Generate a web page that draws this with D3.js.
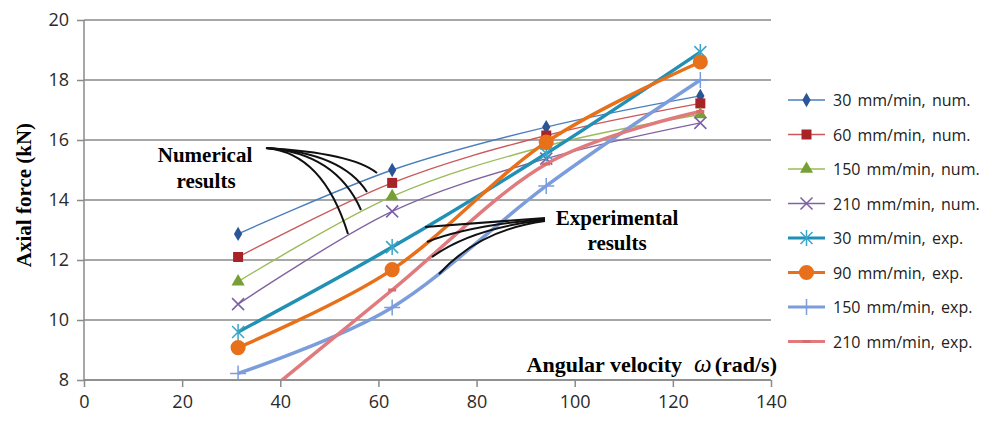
<!DOCTYPE html>
<html>
<head>
<meta charset="utf-8">
<script src="https://cdn.jsdelivr.net/npm/d3@7"></script>
<style>
  body { margin: 0; background: #fff; }
  svg { display: block; }
</style>
</head>
<body>
<div id="chart"></div>
<script>
// angular velocities (rad/s)
let omega = [31.4, 62.8, 94.2, 125.6];

// axial force (kN)
let num30 = [12.87, 15.0, 16.43, 17.47];
let num60 = [12.1, 14.57, 16.15, 17.22];
let num150 = [11.28, 14.12, 15.8, 16.85];
let num210 = [10.53, 13.62, 15.38, 16.57];
let exp30 = [9.6, 12.43, 15.55, 18.93];
let exp90 = [9.08, 11.68, 15.93, 18.6];
let exp150 = [8.22, 10.42, 14.47, 18.0];
let exp210 = [6.8, 11.0, 15.2, 16.95];

let series_names = ['30 mm/min, num.', '60 mm/min, num.', '150 mm/min, num.', '210 mm/min, num.',
                    '30 mm/min, exp.', '90 mm/min, exp.', '150 mm/min, exp.', '210 mm/min, exp.'];

let x_ticks = [0, 20, 40, 60, 80, 100, 120, 140];
let y_ticks = [8, 10, 12, 14, 16, 18, 20];

let series = [
    {name: series_names[0], values: num30, line: '#4a7ebb', mark: '#2a5597', w: 1.4, sym: 'diamond'},
    {name: series_names[1], values: num60, line: '#c9595a', mark: '#a82328', w: 1.4, sym: 'square'},
    {name: series_names[2], values: num150, line: '#9bbb59', mark: '#76a035', w: 1.4, sym: 'triangle'},
    {name: series_names[3], values: num210, line: '#8064a2', mark: '#7c5fa8', w: 1.4, sym: 'x'},
    {name: series_names[4], values: exp30, line: '#2190b5', mark: '#3aa5c8', w: 3.5, sym: 'star'},
    {name: series_names[5], values: exp90, line: '#e8701a', mark: '#e8701a', w: 3.5, sym: 'circle'},
    {name: series_names[6], values: exp150, line: '#7c9ddb', mark: '#7c9ddb', w: 3.5, sym: 'plus'},
    {name: series_names[7], values: exp210, line: '#e07a7d', mark: '#d96a6e', w: 3.5, sym: 'dash'},
];

let width = 982, height = 421;
let m_left = 84, m_right = 771, m_top = 20, m_bottom = 380;

let svg = d3.select('#chart').append('svg')
    .attr('width', width)
    .attr('height', height);

let x_scale = d3.scaleLinear().domain([0, 140]).range([m_left, m_right]);
let y_scale = d3.scaleLinear().domain([8, 20]).range([m_bottom, m_top]);

// grid lines
svg.append('g').selectAll('line')
    .data(y_ticks)
    .enter()
    .append('line')
    .attr('x1', m_left).attr('x2', m_right)
    .attr('y1', d => y_scale(d)).attr('y2', d => y_scale(d))
    .attr('stroke', '#8a8a8a')
    .attr('stroke-width', 1.5);

// axes
let x_axis = d3.axisBottom(x_scale).tickValues(x_ticks).tickSize(7).tickPadding(8);
let gx = svg.append('g')
    .attr('transform', 'translate(0,' + m_bottom + ')')
    .call(x_axis);

let y_axis = d3.axisLeft(y_scale).tickValues(y_ticks).tickSize(7).tickPadding(8);
let gy = svg.append('g')
    .attr('transform', 'translate(' + m_left + ',0)')
    .call(y_axis);

[gx, gy].forEach(g => {
    g.select('.domain').attr('stroke', '#8a8a8a').attr('stroke-width', 1.5);
    g.selectAll('.tick line').attr('stroke', '#8a8a8a').attr('stroke-width', 1.5);
    g.selectAll('.tick text')
        .attr('fill', '#2a2a2a')
        .style('font-family', '"Open Sans", sans-serif')
        .style('font-size', '18px');
});
gy.select('.domain').attr('d', 'M0,' + m_top + 'V' + m_bottom);
gx.select('.domain').attr('d', 'M' + m_left + ',0H' + m_right);

// axis titles
svg.append('text')
    .attr('transform', 'translate(31,195) rotate(-90)')
    .attr('text-anchor', 'middle')
    .style('font-family', '"Liberation Serif", serif')
    .style('font-weight', 'bold')
    .style('font-size', '21px')
    .text('Axial force (kN)');

let xt = svg.append('text')
    .attr('x', 777)
    .attr('y', 372)
    .attr('text-anchor', 'end')
    .style('font-family', '"Liberation Serif", serif')
    .style('font-weight', 'bold')
    .style('font-size', '22px');
xt.append('tspan').text('Angular velocity');
xt.append('tspan').attr('dx', 12).style('font-style', 'italic').style('font-weight', 'normal')
    .style('font-size', '25px').text('\u03c9');
xt.append('tspan').attr('dx', 3).text('(rad/s)');

// clip
svg.append('clipPath').attr('id', 'plot_clip')
    .append('rect')
    .attr('x', m_left).attr('y', 0)
    .attr('width', m_right - m_left + 10).attr('height', m_bottom - 1);

let line = d3.line()
    .x((d, i) => x_scale(omega[i]))
    .y(d => y_scale(d))
    .curve(d3.curveCatmullRom.alpha(0));

function symbol_path(sym) {
    if (sym === 'diamond') return d3.symbol(d3.symbolDiamond, 60)();
    if (sym === 'square') return d3.symbol(d3.symbolSquare, 100)();
    if (sym === 'triangle') return d3.symbol(d3.symbolTriangle, 75)();
    if (sym === 'circle') return d3.symbol(d3.symbolCircle, 180)();
    if (sym === 'x') return 'M-6,-6L6,6M-6,6L6,-6';
    if (sym === 'star') return 'M-6,-6L6,6M-6,6L6,-6M0,-8V8';
    if (sym === 'plus') return 'M-8,0H8M0,-8V8';
    if (sym === 'dash') return 'M-4,0H4';
    return '';
}
let stroked = ['x', 'star', 'plus', 'dash'];

function draw_marker(g, s, tx, ty) {
    let p = g.append('path')
        .attr('d', symbol_path(s.sym))
        .attr('transform', 'translate(' + tx + ',' + ty + ')');
    if (stroked.includes(s.sym)) {
        p.attr('fill', 'none').attr('stroke', s.mark).attr('stroke-width', s.sym === 'dash' ? 3 : 1.5);
    } else {
        p.attr('fill', s.mark);
    }
}

let plot = svg.append('g').attr('clip-path', 'url(#plot_clip)');

series.forEach(s => {
    let g = plot.append('g');
    g.append('path')
        .datum(s.values)
        .attr('d', line)
        .attr('fill', 'none')
        .attr('stroke', s.line)
        .attr('stroke-width', s.w);
    s.values.forEach((v, i) => draw_marker(g, s, x_scale(omega[i]), y_scale(v)));
});

// annotations
let ann = svg.append('g')
    .style('font-family', '"Liberation Serif", serif')
    .style('font-weight', 'bold')
    .style('font-size', '21px')
    .attr('text-anchor', 'middle');
ann.append('text').attr('x', 205).attr('y', 162).text('Numerical');
ann.append('text').attr('x', 206).attr('y', 188).text('results');
ann.append('text').attr('x', 617).attr('y', 225).text('Experimental');
ann.append('text').attr('x', 617).attr('y', 250).text('results');

// leader curves
let num_origin = [266, 148];
let num_ends = [[377, 173], [367, 192], [361, 210], [348, 234]];
num_ends.forEach(e => {
    svg.append('path')
        .attr('d', 'M' + num_origin + 'Q' + [e[0] - 25, num_origin[1] + 5] + ' ' + e)
        .attr('fill', 'none')
        .attr('stroke', '#111')
        .attr('stroke-width', 2);
});

let exp_origin = [545, 218];
let exp_ends = [[425, 227], [427, 242], [432, 257], [439, 274]];
exp_ends.forEach((e, i) => {
    svg.append('path')
        .attr('d', 'M' + [exp_origin[0], exp_origin[1] + i] + 'Q' + [e[0] + 40, exp_origin[1] + 6 + i * 2] + ' ' + e)
        .attr('fill', 'none')
        .attr('stroke', '#111')
        .attr('stroke-width', 2);
});

// legend
let legend = svg.append('g')
    .style('font-family', '"Open Sans", sans-serif')
    .style('font-size', '16px')
    .style('word-spacing', '2px');
series.forEach((s, i) => {
    let ly = 100 + i * 34.5;
    let g = legend.append('g');
    g.append('line')
        .attr('x1', 788).attr('x2', 825)
        .attr('y1', ly).attr('y2', ly)
        .attr('stroke', s.line)
        .attr('stroke-width', s.w < 2 ? 1.5 : 3);
    draw_marker(g, s, 806.5, ly);
    g.append('text')
        .attr('x', 833)
        .attr('y', ly + 6)
        .attr('fill', '#222')
        .text(s.name);
});
</script>
</body>
</html>
